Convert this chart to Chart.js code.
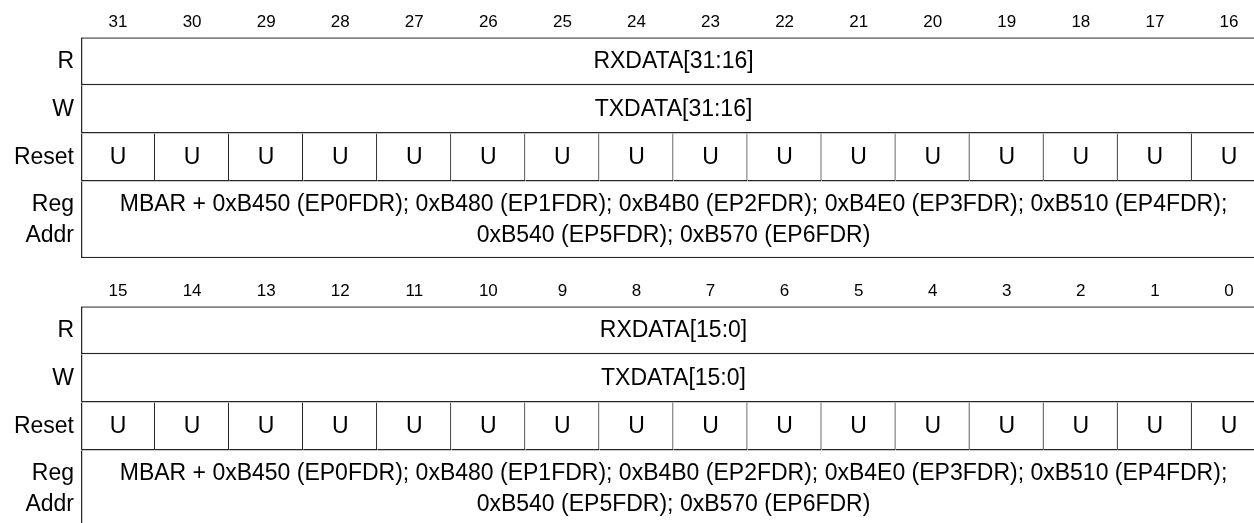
<!DOCTYPE html>
<html>
<head>
<meta charset="utf-8">
<script src="https://cdn.jsdelivr.net/npm/chart.js@4"></script>
<style>
  html, body {
    margin: 0;
    padding: 0;
    background: #fff;
    overflow: hidden;
    width: 1254px;
    height: 523px;
  }
  .section {
    position: relative;
    width: 1267px;
    height: 269px;
  }
</style>
</head>
<body>
<div class="section"><canvas id="upper-register"></canvas></div>
<div class="section"><canvas id="lower-register"></canvas></div>
<script>
const upperBits = [31, 30, 29, 28, 27, 26, 25, 24, 23, 22, 21, 20, 19, 18, 17, 16];
const lowerBits = [15, 14, 13, 12, 11, 10, 9, 8, 7, 6, 5, 4, 3, 2, 1, 0];

const rowLabels = ["R", "W", "Reset", ["Reg", "Addr"]];

const readFields = ["RXDATA[31:16]", "RXDATA[15:0]"];
const writeFields = ["TXDATA[31:16]", "TXDATA[15:0]"];

const upperReset = ["U", "U", "U", "U", "U", "U", "U", "U", "U", "U", "U", "U", "U", "U", "U", "U"];
const lowerReset = ["U", "U", "U", "U", "U", "U", "U", "U", "U", "U", "U", "U", "U", "U", "U", "U"];

const regAddrLines = [
  "MBAR + 0xB450 (EP0FDR); 0xB480 (EP1FDR); 0xB4B0 (EP2FDR); 0xB4E0 (EP3FDR); 0xB510 (EP4FDR);",
  "0xB540 (EP5FDR); 0xB570 (EP6FDR)"
];

// row layout in row units (R, W, Reset, Reg Addr)
const rowCenters = [0.5, 1.5, 2.5, 3.8];
const rowTotal = 4.6;
const regRowRatio = 1.6;

const fontFamily = "'Liberation Sans', Helvetica, Arial, sans-serif";
const lineColor = "#262626";
const heavy = 1.5;
const light = 1.2;

const cellTextPlugin = {
  id: "cellText",
  afterDatasetsDraw(chart) {
    const ctx = chart.ctx;
    ctx.save();
    ctx.fillStyle = "#000";
    ctx.font = "23px " + fontFamily;
    ctx.textAlign = "center";
    ctx.textBaseline = "middle";

    chart.data.datasets.forEach((dataset, i) => {
      if (!dataset.cellText) {
        return;
      }
      const meta = chart.getDatasetMeta(i);
      meta.data.forEach((bar, j) => {
        const props = bar.getProps(["x", "y", "base"], true);
        const cx = (props.x + props.base) / 2;
        const text = dataset.cellText[j];
        const lines = Array.isArray(text) ? text : [text];
        const lineHeight = 31;
        const top = props.y - (lines.length - 1) * lineHeight / 2;
        lines.forEach((line, k) => {
          ctx.fillText(line, cx, top + k * lineHeight);
        });
      });
    });

    ctx.restore();
  }
};

function noScalePadding(scale) {
  scale.paddingTop = 0;
  scale.paddingBottom = 0;
  scale.paddingLeft = 0;
  scale.paddingRight = 0;
}

function makeRegisterChart(canvasId, bits, readText, writeText, resetValues) {
  const canvas = document.getElementById(canvasId);

  const cellStyle = {
    backgroundColor: "#fff",
    borderColor: lineColor,
    borderSkipped: false,
    inflateAmount: 0
  };

  return new Chart(canvas, {
    type: "bar",
    data: {
      datasets: [
        {
          ...cellStyle,
          label: "R",
          data: [{ x: [0, bits.length], y: rowCenters[0] }],
          cellText: [readText],
          borderWidth: { top: heavy, left: heavy, right: heavy, bottom: heavy }
        },
        {
          ...cellStyle,
          label: "W",
          data: [{ x: [0, bits.length], y: rowCenters[1] }],
          cellText: [writeText],
          borderWidth: { top: 0, left: heavy, right: heavy, bottom: heavy }
        },
        {
          ...cellStyle,
          label: "Reset",
          data: resetValues.map((value, i) => ({ x: [i, i + 1], y: rowCenters[2] })),
          cellText: resetValues,
          borderWidth: (context) => ({
            top: 0,
            left: context.dataIndex === 0 ? heavy : 0,
            right: context.dataIndex === resetValues.length - 1 ? heavy : light,
            bottom: heavy
          })
        },
        {
          ...cellStyle,
          label: "Reg Addr",
          data: [{ x: [0, bits.length], y: rowCenters[3] }],
          cellText: [regAddrLines],
          barPercentage: regRowRatio,
          borderWidth: { top: 0, left: heavy, right: heavy, bottom: heavy }
        }
      ]
    },
    options: {
      indexAxis: "y",
      responsive: true,
      maintainAspectRatio: false,
      animation: false,
      events: [],
      layout: {
        autoPadding: false,
        padding: { left: 0, right: 1, top: 0, bottom: 10.7 }
      },
      datasets: {
        bar: {
          grouped: false,
          categoryPercentage: 1,
          barPercentage: 1
        }
      },
      plugins: {
        legend: { display: false },
        tooltip: { enabled: false },
        colors: { enabled: false }
      },
      scales: {
        x: {
          type: "linear",
          position: "top",
          offset: false,
          min: 0,
          max: bits.length,
          grid: { display: false, drawTicks: false },
          border: { display: false },
          afterBuildTicks: (scale) => {
            scale.ticks = bits.map((bit, i) => ({ value: i + 0.5 }));
          },
          afterFit: (scale) => {
            scale.height = 37.3;
            noScalePadding(scale);
          },
          ticks: {
            autoSkip: false,
            maxRotation: 0,
            padding: 5,
            color: "#000",
            font: { family: fontFamily, size: 17 },
            callback: (value, index) => bits[index]
          }
        },
        y: {
          type: "linear",
          reverse: true,
          offset: false,
          min: 0,
          max: rowTotal,
          grid: { display: false, drawTicks: false },
          border: { display: false },
          afterBuildTicks: (scale) => {
            scale.ticks = rowCenters.map((value) => ({ value: value }));
          },
          afterFit: (scale) => {
            scale.width = 81;
            noScalePadding(scale);
          },
          ticks: {
            autoSkip: false,
            padding: 7,
            color: "#000",
            font: { family: fontFamily, size: 23, lineHeight: 1.35 },
            callback: (value, index) => rowLabels[index]
          }
        }
      }
    },
    plugins: [cellTextPlugin]
  });
}

makeRegisterChart("upper-register", upperBits, readFields[0], writeFields[0], upperReset);
makeRegisterChart("lower-register", lowerBits, readFields[1], writeFields[1], lowerReset);
</script>
</body>
</html>
